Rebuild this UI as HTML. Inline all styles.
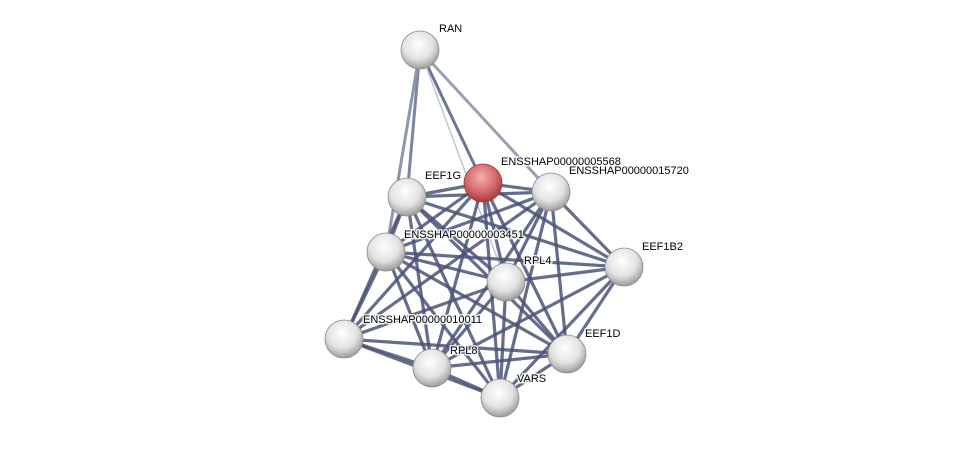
<!DOCTYPE html>
<html><head><meta charset="utf-8"><style>
body{margin:0;background:#fff;width:976px;height:445px;overflow:hidden}
text{font-family:"Liberation Sans",sans-serif;font-size:11px;fill:#000;stroke:#fff;stroke-width:3px;stroke-opacity:0.85;paint-order:stroke;stroke-linejoin:round}
</style></head><body>
<svg width="976" height="445" viewBox="0 0 976 445">
<defs>
<radialGradient id="w" cx="45%" cy="35%" r="65%"><stop offset="0" stop-color="#fff"/><stop offset="0.6" stop-color="#e2e2e2"/><stop offset="1" stop-color="#9c9c9c"/></radialGradient>
<radialGradient id="r" cx="45%" cy="35%" r="65%"><stop offset="0" stop-color="#f4b0b0"/><stop offset="0.6" stop-color="#d56a6a"/><stop offset="1" stop-color="#a63a3a"/></radialGradient>
</defs>
<g stroke-linecap="round">
<line x1="420" y1="50" x2="407" y2="197" stroke="#7d86a0" stroke-width="3"/>
<line x1="420" y1="50" x2="386" y2="252" stroke="#8d95ab" stroke-width="3"/>
<line x1="420" y1="50" x2="483" y2="183" stroke="#6b7594" stroke-width="3"/>
<line x1="420" y1="50" x2="551" y2="192" stroke="#9aa1b5" stroke-width="3"/>
<line x1="420" y1="50" x2="506" y2="282" stroke="#c3c7d3" stroke-width="1.5"/>
</g>
<g stroke="#4a5478" stroke-width="3.2" stroke-opacity="0.85">
<line x1="483" y1="183" x2="407" y2="197"/><line x1="483" y1="183" x2="551" y2="192"/><line x1="483" y1="183" x2="386" y2="252"/><line x1="483" y1="183" x2="506" y2="282"/><line x1="483" y1="183" x2="624" y2="267"/><line x1="483" y1="183" x2="344" y2="339"/><line x1="483" y1="183" x2="432" y2="368"/><line x1="483" y1="183" x2="567" y2="354"/><line x1="483" y1="183" x2="500" y2="398"/>
<line x1="407" y1="197" x2="551" y2="192"/><line x1="407" y1="197" x2="386" y2="252"/><line x1="407" y1="197" x2="506" y2="282"/><line x1="407" y1="197" x2="624" y2="267"/><line x1="407" y1="197" x2="344" y2="339"/><line x1="407" y1="197" x2="432" y2="368"/><line x1="407" y1="197" x2="567" y2="354"/><line x1="407" y1="197" x2="500" y2="398"/>
<line x1="551" y1="192" x2="386" y2="252"/><line x1="551" y1="192" x2="506" y2="282"/><line x1="551" y1="192" x2="624" y2="267"/><line x1="551" y1="192" x2="344" y2="339"/><line x1="551" y1="192" x2="432" y2="368"/><line x1="551" y1="192" x2="567" y2="354"/><line x1="551" y1="192" x2="500" y2="398"/>
<line x1="386" y1="252" x2="506" y2="282"/><line x1="386" y1="252" x2="624" y2="267"/><line x1="386" y1="252" x2="344" y2="339"/><line x1="386" y1="252" x2="432" y2="368"/><line x1="386" y1="252" x2="567" y2="354"/><line x1="386" y1="252" x2="500" y2="398"/>
<line x1="506" y1="282" x2="624" y2="267"/><line x1="506" y1="282" x2="344" y2="339"/><line x1="506" y1="282" x2="432" y2="368"/><line x1="506" y1="282" x2="567" y2="354"/><line x1="506" y1="282" x2="500" y2="398"/>
<line x1="624" y1="267" x2="432" y2="368"/><line x1="624" y1="267" x2="567" y2="354"/><line x1="624" y1="267" x2="500" y2="398"/>
<line x1="344" y1="339" x2="432" y2="368"/><line x1="344" y1="339" x2="567" y2="354"/><line x1="344" y1="339" x2="500" y2="398"/>
<line x1="432" y1="368" x2="567" y2="354"/><line x1="432" y1="368" x2="500" y2="398"/>
<line x1="567" y1="354" x2="500" y2="398"/>
</g>
<g stroke="#8a8a8a" stroke-width="0.8">
<circle cx="420" cy="50" r="19" fill="url(#w)"/>
<circle cx="407" cy="197" r="19" fill="url(#w)"/>
<circle cx="551" cy="192" r="19" fill="url(#w)"/>
<circle cx="386" cy="252" r="19" fill="url(#w)"/>
<circle cx="506" cy="282" r="19" fill="url(#w)"/>
<circle cx="624" cy="267" r="19" fill="url(#w)"/>
<circle cx="344" cy="339" r="19" fill="url(#w)"/>
<circle cx="432" cy="368" r="19" fill="url(#w)"/>
<circle cx="567" cy="354" r="19" fill="url(#w)"/>
<circle cx="500" cy="398" r="19" fill="url(#w)"/>
<circle cx="483" cy="183" r="19" fill="url(#r)" stroke="#9a3a3a"/>
</g>
<text x="439" y="32">RAN</text>
<text x="501" y="165">ENSSHAP00000005568</text>
<text x="569" y="174">ENSSHAP00000015720</text>
<text x="425" y="179">EEF1G</text>
<text x="404" y="238">ENSSHAP00000003451</text>
<text x="524" y="264">RPL4</text>
<text x="642" y="250">EEF1B2</text>
<text x="363" y="323">ENSSHAP00000010011</text>
<text x="450" y="354">RPL8</text>
<text x="585" y="337">EEF1D</text>
<text x="517" y="382">VARS</text>
</svg>
</body></html>
